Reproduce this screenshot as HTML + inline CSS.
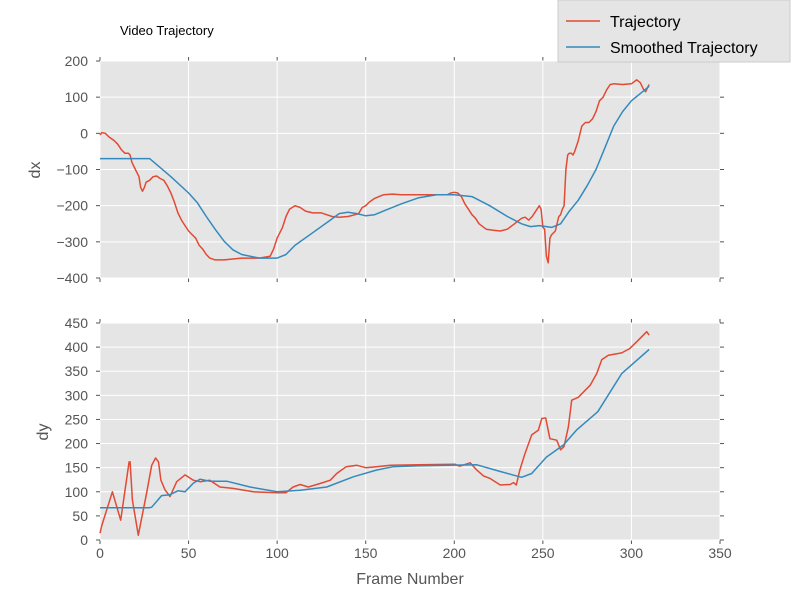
<!DOCTYPE html>
<html><head><meta charset="utf-8"><style>
body{margin:0;background:#fff;}
svg{display:block;font-family:"Liberation Sans","DejaVu Sans",sans-serif;}
</style></head><body>
<svg id="chart" width="800" height="600">
<text x="120" y="35" font-size="13" fill="#000">Video Trajectory</text>
<g id="top"></g>
<g id="bot"></g>
<text x="40" y="170" font-size="16" fill="#555" text-anchor="middle" transform="rotate(-90 40 170)">dx</text>
<text x="48" y="432" font-size="16" fill="#555" text-anchor="middle" transform="rotate(-90 48 432)">dy</text>
<text x="410" y="584" font-size="16" fill="#555" text-anchor="middle">Frame Number</text>
<g>
<rect x="558" y="0" width="232" height="62" fill="#e5e5e5" stroke="#ccc"/>
<line x1="566" y1="21" x2="600" y2="21" stroke="#e24a33" stroke-width="1.5"/>
<text x="610" y="27" font-size="16" fill="#000">Trajectory</text>
<line x1="566" y1="47" x2="600" y2="47" stroke="#348abd" stroke-width="1.5"/>
<text x="610" y="53" font-size="16" fill="#000">Smoothed Trajectory</text>
</g>
</svg>
<script>
const xTicks=[0,50,100,150,200,250,300,350];
const dxTicks=[-400,-300,-200,-100,0,100,200];
const dyTicks=[0,50,100,150,200,250,300,350,400,450];
const dxFrames=[0,1,3,5,8,10,12,14,16,17,18,20,22,23,24,25,26,28,30,32,34,36,38,40,42,44,46,48,50,52,54,56,58,60,62,65,70,80,90,96,98,100,103,105,107,110,113,116,120,125,128,131,135,140,144,146,148,150,152,155,160,165,170,180,190,196,198,200,202,204,206,208,210,212,214,218,222,226,230,234,238,240,242,244,246,248,249,250,251,252,253,254,255,257,258,259,260,261,262,263,264,265,266,267,268,270,272,274,276,278,280,282,284,286,288,290,295,300,303,305,307,308,310];
const dxValues=[-5,2,0,-10,-20,-30,-45,-55,-55,-60,-80,-100,-120,-150,-160,-150,-135,-130,-120,-118,-125,-130,-145,-165,-190,-220,-240,-255,-270,-280,-290,-310,-320,-335,-345,-350,-350,-345,-345,-340,-320,-290,-260,-230,-210,-200,-205,-215,-220,-220,-225,-230,-232,-230,-225,-222,-205,-200,-190,-180,-170,-168,-170,-170,-170,-170,-165,-163,-165,-175,-195,-210,-225,-235,-250,-265,-268,-270,-265,-250,-235,-232,-240,-230,-215,-200,-210,-260,-265,-340,-358,-290,-280,-270,-250,-230,-225,-210,-200,-100,-60,-55,-55,-60,-50,-20,20,30,30,40,60,90,100,120,135,137,135,137,148,140,120,115,135];
const dxSmFrames=[0,28,40,50,55,60,65,70,75,80,90,100,105,110,120,130,135,140,145,150,155,160,170,180,190,200,210,220,230,238,243,248,252,255,260,265,270,275,280,285,290,295,300,305,310];
const dxSmValues=[-70,-70,-120,-165,-192,-230,-265,-298,-322,-335,-345,-345,-335,-310,-275,-240,-222,-218,-222,-228,-225,-215,-195,-178,-170,-170,-175,-200,-230,-250,-258,-255,-258,-260,-250,-215,-185,-145,-100,-40,20,60,90,110,130];
const dyFrames=[0,1,7,11.7,16.4,17,18.3,21.6,26.3,29.2,31.4,33,34.4,36.7,39.5,43.3,48,52.7,56.5,62,67.7,75,86.6,100,105,109,113,117.6,124,130,133.6,139,145,150,156,164,180,200.5,203,209,212.7,216.5,220,226,231.5,233.4,235,237,240,243.7,247.5,249.4,251.6,254,257.8,260,262,264.4,266.3,270,276.7,280.4,283.3,287,294.5,299,303,308.6,310];
const dyValues=[14,30,100,41,162,162,83,10,97,155,170,162,124,104,90,121,135,124,121,124,110,107,100,98,98,110,115,110,117,124,138,152,155,150,152,155,156,157,153,160,145,133,128,114,115,119,114,145,180,218,228,252,253,210,207,187,194,235,290,296,321,345,374,383,388,397,411,432,425];
const dySmFrames=[0,28,29.2,34.8,39.5,44,48,52.7,56.5,62,71.5,84.7,100,113,128,143,156,165.6,180,212.7,226,238,243.7,252,261.6,269,281,294.5,310];
const dySmValues=[67,67,68,92,94,102,100,118,126,122,122,110,100,103,110,131,145,152,154,156,142,130,138,172,197,228,266,345,395];

const NS="http://www.w3.org/2000/svg";
const X0=100,X1=720;
function xs(v){return X0+(v-0)/(350-0)*(X1-X0);}
function mk(tag,attrs,parent){const e=document.createElementNS(NS,tag);for(const k in attrs)e.setAttribute(k,attrs[k]);parent.appendChild(e);return e;}
function axes(g,top,bot,ymin,ymax,yTicks,showX,name){
  const ys=v=>bot-(v-ymin)/(ymax-ymin)*(bot-top);
  const bg=mk('rect',{x:X0,y:top,width:X1-X0,height:bot-top,fill:'#e5e5e5'},g);
  
  
  xTicks.forEach(t=>{
    const l=mk('line',{x1:xs(t),x2:xs(t),y1:top,y2:bot,stroke:'#fff','stroke-width':1},g);
    
    
    mk('line',{x1:xs(t),x2:xs(t),y1:bot,y2:bot+4,stroke:'#555'},g);
    mk('line',{x1:xs(t),x2:xs(t),y1:top-4,y2:top,stroke:'#555'},g);
    if(showX){const tx=mk('text',{x:xs(t),y:bot+18,'font-size':14,fill:'#555','text-anchor':'middle'},g);tx.textContent=t;
      
      }
  });
  yTicks.forEach(t=>{
    const l=mk('line',{x1:X0,x2:X1,y1:ys(t),y2:ys(t),stroke:'#fff','stroke-width':1},g);
    
    
    const tx=mk('text',{x:X0-12,y:ys(t)+5,'font-size':14,fill:'#555','text-anchor':'end'},g);tx.textContent=(t<0?'\u2212'+(-t):t);
    
    
    mk('line',{x1:X0-4,x2:X0,y1:ys(t),y2:ys(t),stroke:'#555'},g);
    mk('line',{x1:X1,x2:X1+4,y1:ys(t),y2:ys(t),stroke:'#555'},g);
  });
  return ys;
}
function line(g,fr,vals,ys,color,name){
  const d=fr.map((f,i)=>(i?'L':'M')+xs(f).toFixed(1)+','+ys(vals[i]).toFixed(1)).join('');
  const p=mk('path',{d:d,fill:'none',stroke:color,'stroke-width':1.5,'stroke-linejoin':'round'},g);
  
  
}
const gt=document.getElementById('top'),gb=document.getElementById('bot');
const ysT=axes(gt,61,278,-400,200,dxTicks,false,'dx');
line(gt,dxFrames,dxValues,ysT,'#e24a33','dx-trajectory-line');
line(gt,dxSmFrames,dxSmValues,ysT,'#348abd','dx-smoothed-line');
const ysB=axes(gb,323,540,0,450,dyTicks,true,'dy');
line(gb,dyFrames,dyValues,ysB,'#e24a33','dy-trajectory-line');
line(gb,dySmFrames,dySmValues,ysB,'#348abd','dy-smoothed-line');
</script>
</body></html>
